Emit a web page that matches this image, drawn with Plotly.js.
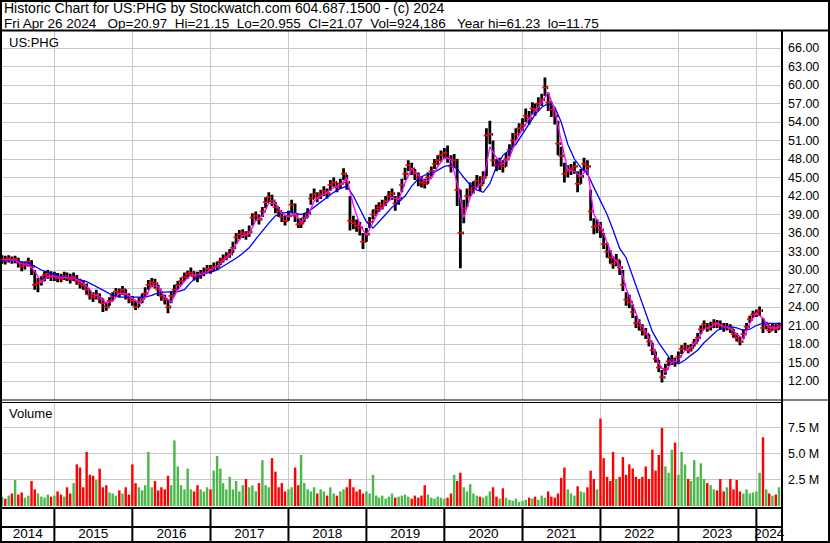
<!DOCTYPE html>
<html><head><meta charset="utf-8">
<script src="https://cdn.plot.ly/plotly-3.0.1.min.js"></script>
<style>html,body{margin:0;padding:0;background:#fff;} #chart{width:830px;height:543px;}</style>
</head><body><div id="chart"></div>
<script>
// ---- DATA (semi-monthly periods, May 2014 .. Apr 2024) ----
const closes = [
 31.8,31.5,31.9,31.6,31.8,31.2,30.6,30.8,31.4,30.6,27.6,27.9,28.3,29.2,29.4,28.9,
 29.0,28.7,28.6,29.0,28.8,28.5,28.9,28.2,27.8,27.5,26.8,26.0,25.6,26.0,25.3,24.6,24.0,25.0,25.8,26.5,26.2,26.8,26.0,25.4,
 25.0,24.0,24.8,25.4,26.2,27.6,28.0,27.8,26.8,25.8,25.2,24.0,25.8,26.8,27.6,28.2,28.9,29.3,29.6,29.0,28.9,29.3,29.6,30.2,
 30.0,30.5,30.6,31.4,31.8,32.2,32.6,33.6,35.3,35.8,36.0,35.6,36.2,38.5,38.8,38.2,39.5,41.0,41.8,41.2,40.2,39.5,38.6,38.0,
 38.8,40.6,38.8,37.4,37.6,38.5,39.2,41.6,42.3,41.8,42.3,42.8,42.4,43.8,44.2,43.4,44.0,45.6,44.2,38.0,37.6,37.2,36.8,34.6,
 35.8,37.8,39.0,39.8,40.2,40.6,41.2,42.0,42.4,40.8,41.6,43.8,45.6,47.0,46.4,45.6,45.0,44.2,44.0,45.0,46.0,47.2,47.8,48.6,
 49.0,48.2,46.8,47.8,43.0,36.0,40.0,42.0,43.0,43.5,44.5,43.8,45.0,51.8,52.0,47.8,47.0,47.2,46.8,48.0,49.5,51.0,52.0,53.0,
 53.5,55.0,54.6,56.2,56.0,57.0,57.6,59.6,57.2,56.0,55.0,50.5,48.5,45.6,46.0,46.4,46.8,44.0,45.2,47.2,46.8,39.5,37.0,37.2,
 36.5,34.2,33.0,32.0,31.0,31.6,30.4,27.6,25.2,24.8,23.2,21.4,21.0,20.2,19.6,18.4,17.0,15.6,14.2,12.6,14.0,15.2,15.4,15.0,
 16.0,17.2,17.6,17.0,17.4,18.2,19.0,20.4,21.2,20.6,20.8,21.4,21.2,21.0,20.6,20.8,20.4,19.6,19.0,18.4,19.6,20.8,22.0,22.8,
 23.0,23.4,20.6,21.0,20.2,20.8,20.4,21.0
];
const highs = [
 32.4,32.3,32.4,32.2,32.3,32.0,31.4,31.4,32.0,31.6,30.0,28.7,29.0,29.8,30.0,29.8,
 29.7,29.5,29.4,29.7,29.6,29.4,29.6,29.2,28.6,28.4,27.8,26.8,26.4,26.8,26.2,25.4,24.8,25.6,26.4,27.1,27.0,27.4,26.9,26.2,
 25.8,25.0,25.6,26.2,27.2,28.4,28.7,28.6,27.6,26.6,26.0,25.2,26.6,27.6,28.2,28.8,29.6,29.9,30.4,29.8,29.7,30.0,30.4,30.8,
 30.8,31.2,31.4,32.0,32.5,32.9,33.4,34.6,36.0,36.5,36.6,36.3,37.2,39.2,39.5,39.0,40.2,41.8,42.6,42.2,41.0,40.2,39.4,38.8,
 39.6,41.4,40.8,38.4,38.4,39.2,40.0,42.4,43.2,42.6,43.0,43.6,43.2,44.6,45.0,44.2,44.8,46.5,45.4,42.0,38.8,38.2,37.8,36.0,
 36.8,38.6,39.8,40.6,41.0,41.4,42.0,42.8,43.2,42.0,42.6,44.8,46.6,47.8,47.4,46.4,45.8,45.2,44.8,45.8,46.8,48.0,48.6,49.4,
 49.8,50.2,48.6,48.8,48.0,43.0,41.4,43.2,44.2,44.4,45.4,45.2,46.0,53.0,54.2,51.0,48.0,48.2,47.8,49.0,50.4,52.2,53.0,53.8,
 54.6,56.2,55.8,57.2,57.0,58.0,58.6,61.2,58.8,57.2,56.2,54.2,50.0,47.4,47.0,47.2,47.6,46.0,46.4,48.2,47.8,43.0,38.4,38.2,
 37.8,36.0,34.4,33.2,32.2,32.6,31.6,30.0,26.4,26.0,24.4,22.6,22.0,21.2,20.6,19.6,18.2,16.8,15.4,13.8,14.8,15.8,16.2,15.8,
 16.8,17.8,18.2,17.8,18.0,18.8,19.8,21.0,21.8,21.4,21.6,22.0,21.9,21.8,21.4,21.4,21.2,20.4,19.8,19.2,20.4,21.4,22.6,23.4,
 23.6,24.1,22.2,21.6,21.0,21.4,21.2,21.5
];
const lows = [
 31.0,30.9,31.2,31.0,31.1,30.4,29.8,30.1,30.6,29.2,26.8,26.4,27.5,28.2,28.6,28.2,
 28.2,28.0,28.0,28.4,28.2,27.8,28.2,27.6,27.0,26.8,26.0,25.2,24.8,25.2,24.6,23.2,23.4,24.2,25.0,25.8,25.6,26.0,25.2,24.6,
 24.2,23.5,24.0,24.6,25.6,26.8,27.2,27.0,25.8,25.0,24.4,23.0,24.6,26.0,26.9,27.6,28.2,28.6,29.0,28.3,28.0,28.6,29.0,29.5,
 29.4,29.8,30.0,30.8,31.2,31.6,32.0,32.8,34.2,35.0,35.2,34.9,35.4,37.2,38.0,37.4,38.6,40.0,41.0,40.4,39.2,38.6,37.8,37.2,
 38.0,39.2,37.8,36.8,36.8,37.8,38.5,40.6,41.6,41.0,41.5,42.0,41.6,42.8,43.5,42.6,43.3,44.6,43.0,36.4,36.6,36.2,35.6,33.4,
 34.6,36.8,38.2,39.0,39.4,39.8,40.4,41.2,41.4,39.6,40.6,42.6,44.6,46.0,45.4,44.6,43.6,43.4,43.2,44.0,45.2,46.4,47.0,47.8,
 48.0,47.4,45.8,46.6,40.4,30.3,37.6,40.2,42.0,42.4,43.4,42.8,44.0,45.2,50.4,46.8,46.0,46.2,45.8,46.8,48.4,49.8,51.0,52.2,
 52.6,54.0,53.6,55.2,55.0,56.0,56.6,58.2,55.8,54.8,53.6,48.6,46.8,44.2,45.0,45.4,45.6,42.6,44.0,46.0,45.4,38.0,35.8,36.0,
 35.2,33.4,32.0,31.0,30.2,30.6,29.2,26.6,24.2,23.8,22.2,20.6,20.2,19.4,18.8,17.6,16.2,15.0,13.4,11.75,13.0,14.4,14.6,14.3,
 15.0,16.4,17.0,16.5,16.8,17.6,18.4,19.6,20.4,20.0,20.2,20.6,20.6,20.3,20.0,20.2,19.8,19.0,18.4,17.8,18.8,20.2,21.4,22.2,
 22.4,22.6,19.8,20.4,19.8,20.2,19.8,20.3
];
// volume in millions
const volumes = [
 0.9,0.7,1.0,1.2,2.5,1.1,1.3,0.8,1.0,2.4,1.6,1.2,0.9,0.8,1.1,0.9,
 1.0,1.4,1.1,0.9,1.8,1.2,2.2,4.0,3.7,1.8,5.2,3.0,2.9,2.5,3.6,1.8,2.0,1.3,1.2,1.0,1.5,1.2,1.8,1.1,
 4.0,2.2,1.8,1.5,2.0,5.2,1.8,2.4,1.5,1.8,1.6,2.9,2.0,6.3,3.8,2.0,1.6,3.6,1.6,1.4,2.0,1.6,1.4,1.8,
 1.6,3.4,4.8,3.6,2.2,1.6,2.8,1.6,2.4,1.4,2.0,2.6,1.8,2.0,1.4,2.2,4.4,2.0,1.8,4.6,3.3,1.8,2.2,1.4,
 1.6,1.8,3.7,2.0,4.9,2.2,1.6,1.4,1.8,1.2,1.6,1.4,1.0,1.8,1.2,1.0,1.4,1.6,1.8,2.6,1.8,1.4,1.6,1.2,
 1.4,1.2,3.0,1.0,0.8,1.0,0.7,0.9,1.2,0.8,0.9,1.0,1.1,0.9,0.7,1.0,0.8,1.0,2.0,1.1,0.8,0.7,0.9,0.8,
 0.7,0.8,1.2,3.0,2.4,3.2,1.8,1.4,2.1,1.2,1.0,0.9,0.8,1.0,1.4,1.8,0.9,0.7,1.7,0.8,0.6,0.5,0.7,0.4,
 0.5,0.6,0.8,0.7,0.9,0.6,1.0,0.8,1.4,0.9,0.8,1.2,2.7,3.7,1.6,1.2,1.0,1.9,1.4,1.3,1.8,3.4,2.6,1.6,
 8.4,4.6,2.8,2.4,5.2,2.6,2.8,4.7,3.0,4.0,3.6,2.8,2.6,2.8,3.8,2.6,5.4,3.4,4.9,7.5,3.8,3.2,5.4,6.1,
 3.0,5.2,4.0,2.6,2.4,4.4,2.8,4.1,2.6,2.2,2.0,1.6,1.5,2.6,1.4,1.8,2.6,1.6,2.5,1.4,1.2,1.6,1.2,1.3,
 1.4,3.2,6.6,1.6,1.2,1.0,1.1,1.8
];
// moving averages read monthly (1st of month, May 2014 .. Apr 2024, then last day)
const maShort = [
 31.7,31.7,31.6,31.0,30.9,29.8,28.0,29.0,
 29.0,28.8,28.8,28.7,28.2,27.4,26.1,25.7,24.6,25.0,26.2,26.2,
 25.4,24.6,25.6,27.5,27.3,25.6,24.8,26.8,28.2,29.2,29.2,29.4,
 30.0,30.6,31.5,32.4,34.2,35.6,35.9,38.0,38.8,40.8,40.8,39.2,
 38.6,39.2,37.8,38.6,41.2,42.0,42.6,43.4,43.8,45.0,40.5,37.4,
 35.6,37.6,39.6,40.6,41.8,41.4,44.2,46.4,45.4,44.4,44.8,46.8,
 48.2,48.0,44.0,38.5,41.8,43.4,44.4,50.0,48.2,47.2,48.2,51.0,
 52.8,54.6,55.8,57.2,58.8,56.0,51.0,46.2,46.0,45.2,46.4,39.0,
 37.2,34.4,32.0,30.8,27.0,24.4,21.6,20.0,17.8,14.8,13.4,15.0,
 15.4,17.0,17.4,18.8,20.4,20.8,21.4,20.8,20.6,19.6,18.8,21.4,
 23.0,22.2,20.6,20.6,20.8
];
const maLong = [
 31.6,31.6,31.5,31.3,31.2,30.6,30.0,29.6,
 29.2,28.9,28.8,28.7,28.4,28.1,27.6,27.0,26.4,25.9,25.6,25.6,
 25.5,25.5,25.6,25.9,26.3,26.4,26.4,26.5,26.8,28.0,28.9,29.5,
 29.6,30.0,30.6,31.2,31.9,32.7,33.6,35.0,36.4,37.6,38.8,39.2,
 39.4,39.2,39.0,39.4,40.2,41.0,41.8,42.6,43.2,43.6,42.0,40.0,
 37.8,36.8,37.8,39.0,40.2,41.0,42.0,43.6,44.8,45.4,45.6,46.2,
 46.8,47.0,46.4,45.0,43.8,43.0,42.6,44.0,46.8,48.6,49.4,50.4,
 52.0,53.8,55.2,56.4,57.0,56.4,54.0,50.4,48.0,46.6,45.6,43.4,
 41.3,39.0,36.5,33.5,32.0,29.0,26.2,23.0,20.0,18.2,16.6,15.2,
 14.8,15.4,16.2,17.0,18.2,19.2,20.2,20.6,20.8,20.6,20.2,20.4,
 21.0,21.4,21.4,21.4,21.3
];
const priceTicks = [12,15,18,21,24,27,30,33,36,39,42,45,48,51,54,57,60,63,66];
const volTicks = [2.5,5.0,7.5];
const volTickText = ['2.5 M','5.0 M','7.5 M'];
const yearLabels = ['2014','2015','2016','2017','2018','2019','2020','2021','2022','2023','2024'];
const S2 = '\u00a0\u00a0', S3 = '\u00a0\u00a0\u00a0';
const headerLine1 = 'Historic Chart for US:PHG by Stockwatch.com 604.687.1500 - (c) 2024';
const headerLine2 = 'Fri Apr 26 2024' + S3 + 'Op=20.97' + S2 + 'Hi=21.15' + S2 + 'Lo=20.955' + S2 + 'Cl=21.07' + S2 + 'Vol=924,186' + S3 + 'Year hi=61.23' + S2 + 'lo=11.75';

// ---- derived: dates, opens, colours ----
const rangeStart = '2014-04-26', rangeEnd = '2024-04-30';
const pad = n => String(n).padStart(2, '0');
const periodDates = [];
for (let y = 2014; y <= 2024; y++) for (let m = 1; m <= 12; m++) for (const d of [1, 16]) {
  const s = `${y}-${pad(m)}-${pad(d)}`;
  if (s >= '2014-05-01' && s <= '2024-04-16') periodDates.push(s);
}
const maDates = [];
for (let y = 2014; y <= 2024; y++) for (let m = 1; m <= 12; m++) {
  const s = `${y}-${pad(m)}-01`;
  if (s >= '2014-05-01' && s <= '2024-04-01') maDates.push(s);
}
maDates.push('2024-04-26');
const opens = closes.map((c, i) => i === 0 ? c : closes[i - 1]);
const volColors = closes.map((c, i) => (i === 0 || c >= closes[i - 1]) ? '#4cb84c' : '#ff0000');

const t0 = Date.parse(rangeStart), t1 = Date.parse(rangeEnd);
const yearMid = yearLabels.map(y => {
  const a = Math.max(Date.parse(y + '-01-01'), t0);
  const b = Math.min(Date.parse((+y + 1) + '-01-01'), t1);
  return new Date((a + b) / 2).toISOString().slice(0, 10);
});
const yearBounds = yearLabels.slice(1).map(y => y + '-01-01');

// ---- layout helpers ----
const W = 830, H = 543;
const px = v => v / W, py = v => (H - v) / H;
const FONT = 'Liberation Sans, Arial, sans-serif';
const GRID = '#c8c8c8';

const traces = [
  { type: 'ohlc', x: periodDates, open: opens, high: highs, low: lows, close: closes,
    xaxis: 'x', yaxis: 'y', tickwidth: 0.4, hoverinfo: 'skip',
    increasing: { line: { color: '#000', width: 2.8 } }, decreasing: { line: { color: '#000', width: 2.8 } } },
  { type: 'scatter', mode: 'markers', x: periodDates, y: closes, xaxis: 'x', yaxis: 'y', hoverinfo: 'skip',
    marker: { symbol: 'line-ew', size: 4, line: { color: '#ff0000', width: 1.6 } } },
  { type: 'scatter', mode: 'lines', x: maDates, y: maLong, xaxis: 'x', yaxis: 'y', hoverinfo: 'skip',
    line: { color: '#0000ff', width: 1.3 } },
  { type: 'scatter', mode: 'lines', x: maDates, y: maShort, xaxis: 'x', yaxis: 'y', hoverinfo: 'skip',
    line: { color: '#ff00ff', width: 1.3 } },
  { type: 'bar', x: periodDates, y: volumes, xaxis: 'x2', yaxis: 'y2', hoverinfo: 'skip',
    marker: { color: volColors, line: { width: 0 } } }
];

const shapes = [
  { type: 'rect', xref: 'paper', yref: 'paper', x0: px(1), x1: px(829), y0: py(542), y1: py(1), line: { color: '#000', width: 2 } },
  { type: 'line', xref: 'paper', yref: 'paper', x0: 0, x1: 1, y0: py(30.5), y1: py(30.5), line: { color: '#000', width: 2 } },
  { type: 'line', xref: 'paper', yref: 'paper', x0: px(782), x1: px(782), y0: py(543), y1: py(30), line: { color: '#000', width: 2 } },
  { type: 'line', xref: 'paper', yref: 'paper', x0: 0, x1: 1, y0: py(400), y1: py(400), line: { color: '#000', width: 1 } },
  { type: 'line', xref: 'paper', yref: 'paper', x0: 0, x1: px(782), y0: py(402.5), y1: py(402.5), line: { color: '#000', width: 1 } },
  { type: 'line', xref: 'paper', yref: 'paper', x0: 0, x1: px(782), y0: py(508), y1: py(508), line: { color: '#000', width: 2 } },
  { type: 'line', xref: 'paper', yref: 'paper', x0: 0, x1: px(782), y0: py(527), y1: py(527), line: { color: '#000', width: 2 } }
].concat(yearBounds.map(d => ({ type: 'line', xref: 'x3', yref: 'paper', x0: d, x1: d, y0: py(543), y1: py(508), line: { color: '#000', width: 2 } })));

const annText = (text, x, y, size) => ({ text, xref: 'paper', yref: 'paper', x: px(x), y: py(y), xanchor: 'left', yanchor: 'top',
  showarrow: false, font: { family: FONT, size: size, color: '#000' }, borderpad: 0 });

const xCommon = { type: 'date', domain: [px(1), px(782)], range: [rangeStart, rangeEnd], showgrid: true, gridcolor: GRID, gridwidth: 1,
  dtick: 'M12', tick0: '2015-01-01', showticklabels: false, ticks: '', zeroline: false, showline: false, fixedrange: true };

const layout = {
  width: W, height: H, margin: { l: 0, r: 0, t: 0, b: 0 }, paper_bgcolor: '#fff', plot_bgcolor: '#fff',
  showlegend: false, dragmode: false, bargap: 0.12, font: { family: FONT, size: 13, color: '#000' },
  xaxis: Object.assign({}, xCommon, { anchor: 'y', rangeslider: { visible: false } }),
  xaxis2: Object.assign({}, xCommon, { anchor: 'y2', matches: 'x' }),
  xaxis3: { type: 'date', domain: [px(1), px(782)], range: [rangeStart, rangeEnd], anchor: 'y3', matches: 'x',
    tickmode: 'array', tickvals: yearMid, ticktext: yearLabels, showgrid: false, ticks: '', zeroline: false, showline: false,
    tickfont: { family: FONT, size: 13.5, color: '#000' }, ticklabelstandoff: 0, fixedrange: true },
  yaxis: { domain: [py(400), py(31)], range: [8.92, 68.76], anchor: 'x', side: 'right', tickmode: 'array', tickvals: priceTicks,
    tickformat: '.2f', showgrid: true, gridcolor: GRID, ticks: '', zeroline: false, showline: false,
    tickfont: { family: FONT, size: 12.5, color: '#000' }, ticklabelstandoff: 5, fixedrange: true },
  yaxis2: { domain: [py(506), py(403)], range: [0, 9.9], anchor: 'x2', side: 'right', tickmode: 'array', tickvals: volTicks,
    ticktext: volTickText, showgrid: true, gridcolor: GRID, ticks: '', zeroline: false, showline: false,
    tickfont: { family: FONT, size: 12.5, color: '#000' }, ticklabelstandoff: 5, fixedrange: true },
  yaxis3: { domain: [py(523), py(508)], range: [0, 1], anchor: 'x3', showgrid: false, showticklabels: false, ticks: '',
    zeroline: false, showline: false, fixedrange: true },
  shapes,
  annotations: [
    annText(headerLine1, 3, -1, 14),
    annText(headerLine2, 3, 15, 13.5),
    annText('US:PHG', 8, 34, 13),
    annText('Volume', 8, 405, 13)
  ]
};

Plotly.newPlot('chart', traces, layout, { staticPlot: true, displayModeBar: false });
</script></body></html>
